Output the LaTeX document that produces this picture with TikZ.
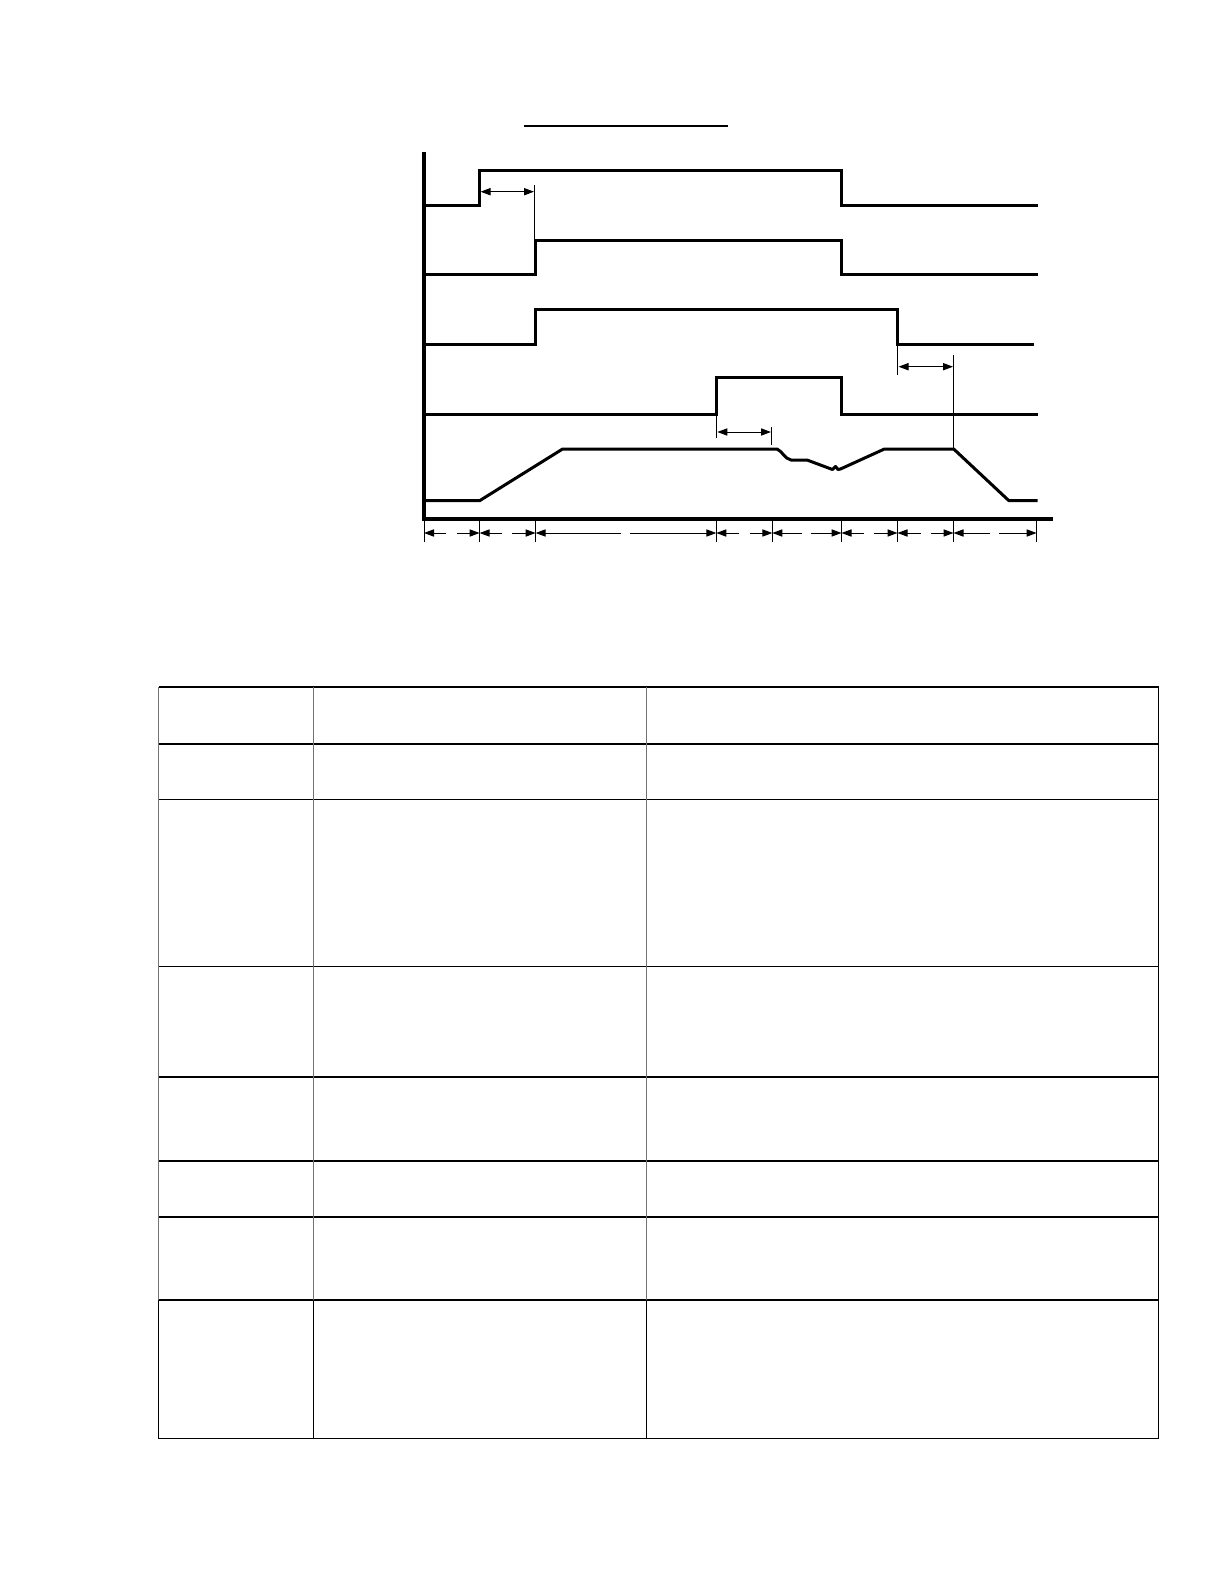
\documentclass[tikz,border=0pt]{standalone}
\usetikzlibrary{arrows.meta}
\begin{document}
\begin{tikzpicture}[x=0.5pt,y=-0.5pt,
  wave/.style={line width=1.5pt,line join=miter},
  axisline/.style={line width=1.6pt},
  thin/.style={line width=0.5pt},
  dimarr/.style={line width=0.5pt,-{Triangle[length=5pt,width=3.6pt]}},
  dimboth/.style={line width=0.5pt,{Triangle[length=5pt,width=3.6pt]}-{Triangle[length=5pt,width=3.6pt]}},
  hrule/.style={line width=0.8pt,black},
  vrule/.style={line width=0.8pt,black!55},
  vruleb/.style={line width=0.8pt,black}]
\useasboundingbox (0,0) rectangle (1224,1584);
% title underline
\draw[line width=1pt] (524,126) -- (728,126);
% axes
\draw[axisline] (424,152) -- (424,519) -- (1053,519);
% signal 1
\draw[wave] (424,205.3) -- (479.5,205.3) -- (479.5,170.3) -- (841.7,170.3) -- (841.7,205.3) -- (1037.5,205.3);
% signal 2
\draw[wave] (424,274) -- (535,274) -- (535,240.3) -- (841.7,240.3) -- (841.7,274) -- (1037.5,274);
% signal 3
\draw[wave] (424,344.3) -- (535,344.3) -- (535,309.3) -- (897.7,309.3) -- (897.7,344.3) -- (1034,344.3);
% signal 4
\draw[wave] (424,414) -- (716.5,414) -- (716.5,377) -- (841.7,377) -- (841.7,414) -- (1037.5,414);
% signal 5
\draw[wave,line join=round] (424,500.7) -- (479.6,500.7) -- (562.6,449) -- (777,449)
  .. controls (782,451) and (785,459) .. (791,460) -- (807,460) -- (832.5,469.5)
  -- (835.5,466.5) -- (838,469.5) -- (840.5,469) -- (884.4,449) -- (953.7,449)
  -- (1008.9,500.7) -- (1037.5,500.7);
% timing arrows
\draw[thin] (534.8,185) -- (534.8,239);
\draw[dimboth] (480.5,191.7) -- (534,191.7);
\draw[thin] (897.7,344) -- (897.7,375);
\draw[thin] (953.7,355) -- (953.7,448);
\draw[dimboth] (898.5,366.7) -- (953,366.7);
\draw[thin] (716.5,414) -- (716.5,438);
\draw[thin] (771.7,427) -- (771.7,445);
\draw[dimboth] (717.3,432) -- (771,432);
% bottom ticks
\foreach \x in {424,479.6,535.6,716.3,772.3,841.5,897.5,953.5,1036.6}
  \draw[thin] (\x,519) -- (\x,542);
% bottom dimension arrows
\foreach \a/\ga/\gb/\b in {424/445.6/457/479.6, 479.6/501.6/512/535.6, 535.6/621/630/716.3,
   716.3/739/749.6/772.3, 772.3/801.5/810.6/841.5, 841.5/863.7/874/897.5,
   897.5/920.5/931/953.5, 953.5/989.8/999/1036.6}{
  \draw[dimarr] (\ga,533) -- (\a,533);
  \draw[dimarr] (\gb,533) -- (\b,533);
}
% table
\foreach \y in {687,744,799.5,966.5,1077,1161,1217,1300,1438.5}
  \draw[hrule] (158.5,\y) -- (1158.5,\y);
\foreach \x in {158.5,313.5,646.5}{
  \draw[vrule] (\x,687) -- (\x,1300);
  \draw[vruleb] (\x,1300) -- (\x,1438.5);
}
\draw[vruleb] (1158.5,687) -- (1158.5,1438.5);
\end{tikzpicture}
\end{document}
